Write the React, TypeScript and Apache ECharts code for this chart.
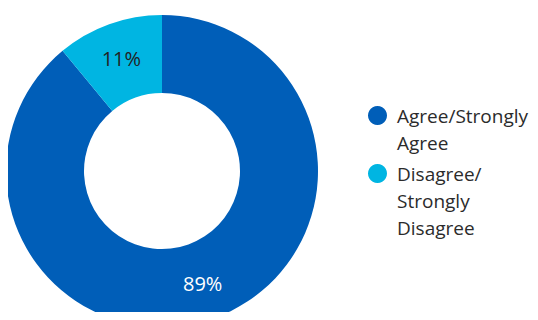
import React, { useEffect, useRef } from "react";
import * as echarts from "echarts";

const categories = ["Agree/Strongly Agree", "Disagree/Strongly Disagree"];
const legendLabels = ["Agree/Strongly\nAgree", "Disagree/\nStrongly\nDisagree"];
const values = [89, 11];
const colors = ["#005EB8", "#00B5E2"];
const labelColors = ["#ffffff", "#222222"];

const FONT = "'Open Sans', 'Noto Sans', sans-serif";
const LH = 27;

export default function App() {
  const ref = useRef<HTMLDivElement>(null);
  useEffect(() => {
    if (!ref.current) return;
    const chart = echarts.init(ref.current, null, { renderer: "svg" });
    const legendTops = [75, 106];
    chart.setOption({
      animation: false,
      legend: categories.map((name, i) => {
        const lines = legendLabels[i].split("\n").length;
        // prepend blank lines so the first text line sits level with the marker
        const text = "\n".repeat(lines - 1) + legendLabels[i];
        return {
          orient: "vertical",
          left: 368,
          top: legendTops[i],
          padding: 0,
          icon: "circle",
          itemWidth: 29,
          itemHeight: 19,
          symbolKeepAspect: true,
          selectedMode: false,
          formatter: () => text,
          data: [name],
          textStyle: {
            fontFamily: FONT,
            fontSize: 19,
            lineHeight: LH,
            color: "#2b2b2b",
          },
        };
      }),
      series: [
        {
          type: "pie",
          center: [162, 171],
          radius: [78, 156],
          startAngle: 90,
          clockwise: true,
          avoidLabelOverlap: false,
          label: {
            show: true,
            position: "inside",
            formatter: "{c}%",
            fontFamily: FONT,
            fontSize: 20,
          },
          labelLine: { show: false },
          emphasis: { disabled: true },
          itemStyle: { borderWidth: 0 },
          data: categories.map((name, i) => ({
            name,
            value: values[i],
            itemStyle: { color: colors[i] },
            label: { color: labelColors[i] },
          })),
        },
      ],
    });
    return () => chart.dispose();
  }, []);
  return <div ref={ref} style={{ width: 538, height: 320, margin: -8 }} />;
}
